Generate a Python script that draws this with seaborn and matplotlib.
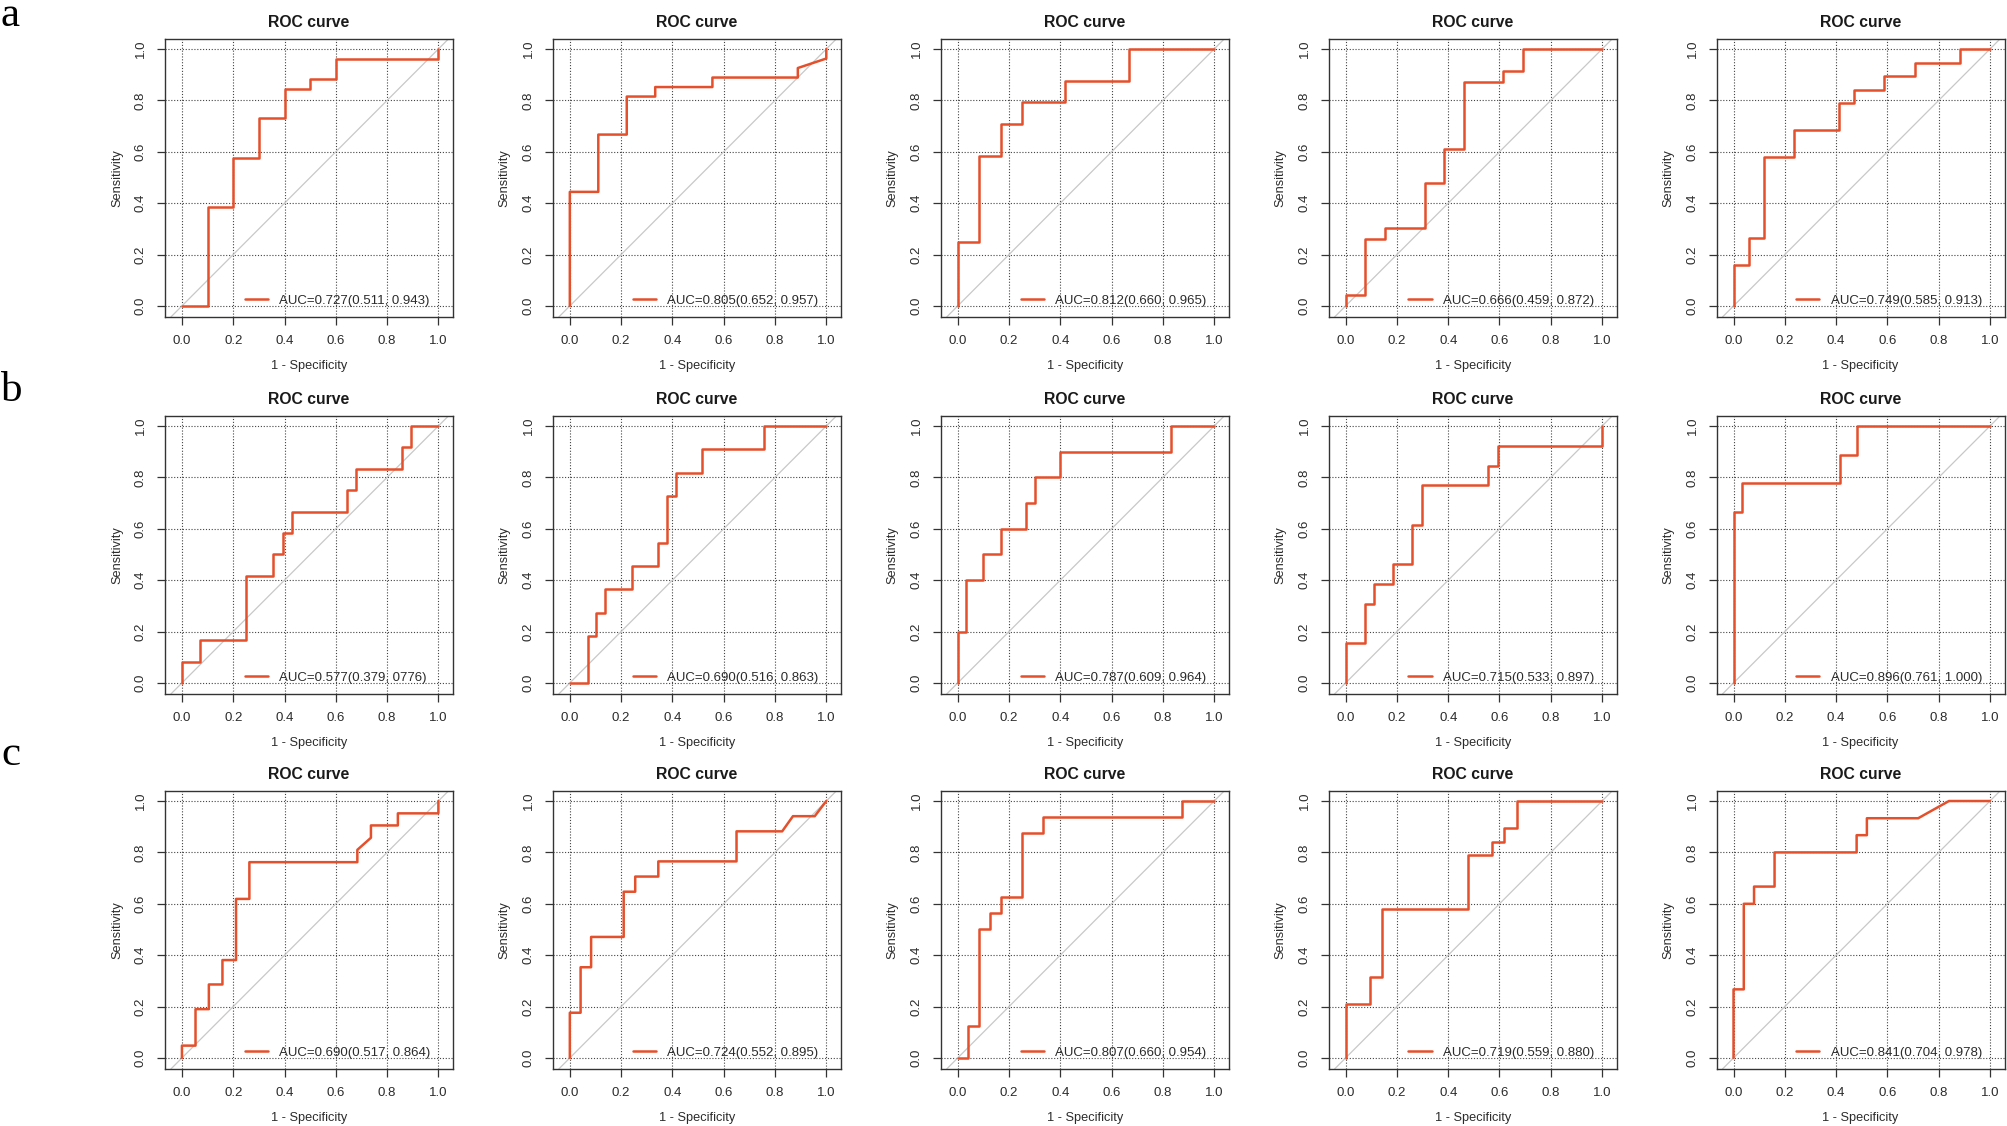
import numpy as np
import pandas as pd
import matplotlib
matplotlib.use("Agg")
import matplotlib.pyplot as plt
import seaborn as sns

# ---------------- data ----------------
row_letters = ["a", "b", "c"]
title_text = "ROC curve"
x_label = "1 - Specificity"
y_label = "Sensitivity"
tick_values = [0.0, 0.2, 0.4, 0.6, 0.8, 1.0]
tick_labels = ["0.0", "0.2", "0.4", "0.6", "0.8", "1.0"]

# row a
a1_fpr = [0, 0.1, 0.1, 0.2, 0.2, 0.3, 0.3, 0.4, 0.4, 0.5, 0.5, 0.6, 0.6, 1, 1]
a1_tpr = [0, 0, 0.385, 0.385, 0.577, 0.577, 0.731, 0.731, 0.846, 0.846, 0.885, 0.885, 0.962, 0.962, 1]
a2_fpr = [0, 0, 0.111, 0.111, 0.222, 0.222, 0.333, 0.333, 0.556, 0.556, 0.889, 0.889, 1, 1]
a2_tpr = [0, 0.444, 0.444, 0.667, 0.667, 0.815, 0.815, 0.852, 0.852, 0.889, 0.889, 0.926, 0.963, 1]
a3_fpr = [0, 0, 0.083, 0.083, 0.167, 0.167, 0.25, 0.25, 0.417, 0.417, 0.667, 0.667, 1]
a3_tpr = [0, 0.25, 0.25, 0.583, 0.583, 0.708, 0.708, 0.792, 0.792, 0.875, 0.875, 1, 1]
a4_fpr = [0, 0, 0.077, 0.077, 0.154, 0.154, 0.308, 0.308, 0.385, 0.385, 0.462, 0.462, 0.615, 0.615, 0.692, 0.692, 1]
a4_tpr = [0, 0.043, 0.043, 0.261, 0.261, 0.304, 0.304, 0.478, 0.478, 0.609, 0.609, 0.870, 0.870, 0.913, 0.913, 1, 1]
a5_fpr = [0, 0, 0.059, 0.059, 0.118, 0.118, 0.235, 0.235, 0.412, 0.412, 0.471, 0.471, 0.588, 0.588, 0.706, 0.706, 0.882, 0.882, 1]
a5_tpr = [0, 0.158, 0.158, 0.263, 0.263, 0.579, 0.579, 0.684, 0.684, 0.789, 0.789, 0.842, 0.842, 0.895, 0.895, 0.947, 0.947, 1, 1]
a_labels = ["AUC=0.727(0.511, 0.943)", "AUC=0.805(0.652, 0.957)", "AUC=0.812(0.660, 0.965)",
            "AUC=0.666(0.459, 0.872)", "AUC=0.749(0.585, 0.913)"]

# row b
b1_fpr = [0, 0, 0.071, 0.071, 0.25, 0.25, 0.357, 0.357, 0.393, 0.393, 0.429, 0.429, 0.643, 0.643, 0.679, 0.679, 0.857, 0.857, 0.893, 0.893, 1]
b1_tpr = [0, 0.083, 0.083, 0.167, 0.167, 0.417, 0.417, 0.5, 0.5, 0.583, 0.583, 0.667, 0.667, 0.75, 0.75, 0.833, 0.833, 0.917, 0.917, 1, 1]
b2_fpr = [0, 0.069, 0.069, 0.103, 0.103, 0.138, 0.138, 0.241, 0.241, 0.345, 0.345, 0.379, 0.379, 0.414, 0.414, 0.517, 0.517, 0.759, 0.759, 1]
b2_tpr = [0, 0, 0.182, 0.182, 0.273, 0.273, 0.364, 0.364, 0.455, 0.455, 0.545, 0.545, 0.727, 0.727, 0.818, 0.818, 0.909, 0.909, 1, 1]
b3_fpr = [0, 0, 0.033, 0.033, 0.1, 0.1, 0.167, 0.167, 0.267, 0.267, 0.3, 0.3, 0.4, 0.4, 0.833, 0.833, 1]
b3_tpr = [0, 0.2, 0.2, 0.4, 0.4, 0.5, 0.5, 0.6, 0.6, 0.7, 0.7, 0.8, 0.8, 0.9, 0.9, 1, 1]
b4_fpr = [0, 0, 0.074, 0.074, 0.111, 0.111, 0.185, 0.185, 0.259, 0.259, 0.296, 0.296, 0.556, 0.556, 0.593, 0.593, 1, 1]
b4_tpr = [0, 0.154, 0.154, 0.308, 0.308, 0.385, 0.385, 0.462, 0.462, 0.615, 0.615, 0.769, 0.769, 0.846, 0.846, 0.923, 0.923, 1]
b5_fpr = [0, 0, 0.034, 0.034, 0.414, 0.414, 0.483, 0.483, 1]
b5_tpr = [0, 0.667, 0.667, 0.778, 0.778, 0.889, 0.889, 1, 1]
b_labels = ["AUC=0.577(0.379, 0776)", "AUC=0.690(0.516, 0.863)", "AUC=0.787(0.609, 0.964)",
            "AUC=0.715(0.533, 0.897)", "AUC=0.896(0.761, 1.000)"]

# row c
c1_fpr = [0, 0, 0.053, 0.053, 0.105, 0.105, 0.158, 0.158, 0.211, 0.211, 0.263, 0.263, 0.684, 0.684, 0.737, 0.737, 0.842, 0.842, 1, 1]
c1_tpr = [0, 0.048, 0.048, 0.19, 0.19, 0.286, 0.286, 0.381, 0.381, 0.619, 0.619, 0.762, 0.762, 0.81, 0.857, 0.905, 0.905, 0.952, 0.952, 1]
c2_fpr = [0, 0, 0.042, 0.042, 0.083, 0.083, 0.21, 0.21, 0.255, 0.255, 0.345, 0.345, 0.65, 0.65, 0.828, 0.87, 0.955, 1]
c2_tpr = [0, 0.176, 0.176, 0.353, 0.353, 0.471, 0.471, 0.647, 0.647, 0.706, 0.706, 0.765, 0.765, 0.882, 0.882, 0.941, 0.941, 1]
c3_fpr = [0, 0.042, 0.042, 0.083, 0.083, 0.125, 0.125, 0.167, 0.167, 0.25, 0.25, 0.333, 0.333, 0.875, 0.875, 1]
c3_tpr = [0, 0, 0.125, 0.125, 0.5, 0.5, 0.5625, 0.5625, 0.625, 0.625, 0.875, 0.875, 0.9375, 0.9375, 1, 1]
c4_fpr = [0, 0, 0.095, 0.095, 0.143, 0.143, 0.476, 0.476, 0.571, 0.571, 0.619, 0.619, 0.667, 0.667, 1]
c4_tpr = [0, 0.211, 0.211, 0.316, 0.316, 0.579, 0.579, 0.789, 0.789, 0.842, 0.842, 0.895, 0.895, 1, 1]
c5_fpr = [0, 0, 0.04, 0.04, 0.08, 0.08, 0.16, 0.16, 0.48, 0.48, 0.52, 0.52, 0.72, 0.84, 1]
c5_tpr = [0, 0.267, 0.267, 0.6, 0.6, 0.667, 0.667, 0.8, 0.8, 0.867, 0.867, 0.933, 0.933, 1, 1]
c_labels = ["AUC=0.690(0.517, 0.864)", "AUC=0.724(0.552, 0.895)", "AUC=0.807(0.660, 0.954)",
            "AUC=0.719(0.559, 0.880)", "AUC=0.841(0.704, 0.978)"]

rows = [
    ([(a1_fpr, a1_tpr), (a2_fpr, a2_tpr), (a3_fpr, a3_tpr), (a4_fpr, a4_tpr), (a5_fpr, a5_tpr)], a_labels),
    ([(b1_fpr, b1_tpr), (b2_fpr, b2_tpr), (b3_fpr, b3_tpr), (b4_fpr, b4_tpr), (b5_fpr, b5_tpr)], b_labels),
    ([(c1_fpr, c1_tpr), (c2_fpr, c2_tpr), (c3_fpr, c3_tpr), (c4_fpr, c4_tpr), (c5_fpr, c5_tpr)], c_labels),
]

# ---------------- style ----------------
sns.set_theme(style="white")
plt.rcParams["font.family"] = ["Liberation Sans", "DejaVu Sans"]

W, H = 2008, 1126
RED = "#E4502C"
TXT = "#2b2b2b"
fig = plt.figure(figsize=(W / 100, H / 100), dpi=100)
fig.patch.set_facecolor("white")

col_left = [165 + 387.9 * i for i in range(5)]
row_top = [39, 416, 791]
ax_w, ax_h = 288, 278
letter_base = [26, 401, 765]

for r, (curves, labels) in enumerate(rows):
    fig.text(1 / W, 1 - letter_base[r] / H, row_letters[r], family=["Liberation Serif", "DejaVu Serif"],
             fontsize=31, color="black", ha="left", va="baseline")
    for c, ((fpr, tpr), lab) in enumerate(zip(curves, labels)):
        ax = fig.add_axes([col_left[c] / W, 1 - (row_top[r] + ax_h) / H, ax_w / W, ax_h / H])
        ax.set_xlim(-0.066, 1.057)
        ax.set_ylim(-0.043, 1.039)
        # grid
        for v in tick_values:
            ax.axvline(v, color="#444444", lw=0.8, ls=(0, (1, 1.6)), zorder=1)
            ax.axhline(v, color="#444444", lw=0.8, ls=(0, (1, 1.6)), zorder=1)
        # diagonal
        ax.axline((0, 0), (1, 1), color="#c8c8c8", lw=0.9, zorder=2)
        df = pd.DataFrame({"fpr": fpr, "tpr": tpr})
        sns.lineplot(data=df, x="fpr", y="tpr", sort=False, estimator=None, ax=ax,
                     color=RED, lw=1.8, zorder=3, label=lab)
        ax.legend(loc="center left", bbox_to_anchor=(0.245, 0.02), bbox_transform=ax.transData,
                  frameon=False, borderaxespad=0, borderpad=0, handlelength=1.75,
                  handletextpad=0.85, fontsize=9.5, labelcolor=TXT)
        ax.set_xticks(tick_values)
        ax.set_xticklabels(tick_labels)
        ax.set_yticks(tick_values)
        ax.set_yticklabels(tick_labels, rotation=90, va="center")
        ax.tick_params(axis="both", direction="out", length=6, width=0.9, color="#333333",
                       labelsize=9.5, labelcolor=TXT, pad=7, bottom=True, left=True)
        for s in ax.spines.values():
            s.set_color("#333333")
            s.set_linewidth(1.0)
            s.set_visible(True)
        ax.set_xlabel(x_label, fontsize=9.2, color=TXT)
        ax.set_ylabel(y_label, fontsize=9.2, color=TXT)
        ax.xaxis.set_label_coords(0.5, -0.153)
        ax.yaxis.set_label_coords(-0.146, 0.5)
        ax.set_title(title_text, fontsize=11.3, fontweight="bold", color="#1a1a1a",
                     y=1.058, va="center", pad=0)
        ax.set_facecolor("white")

fig.savefig("out.png", dpi=100, facecolor="white")
